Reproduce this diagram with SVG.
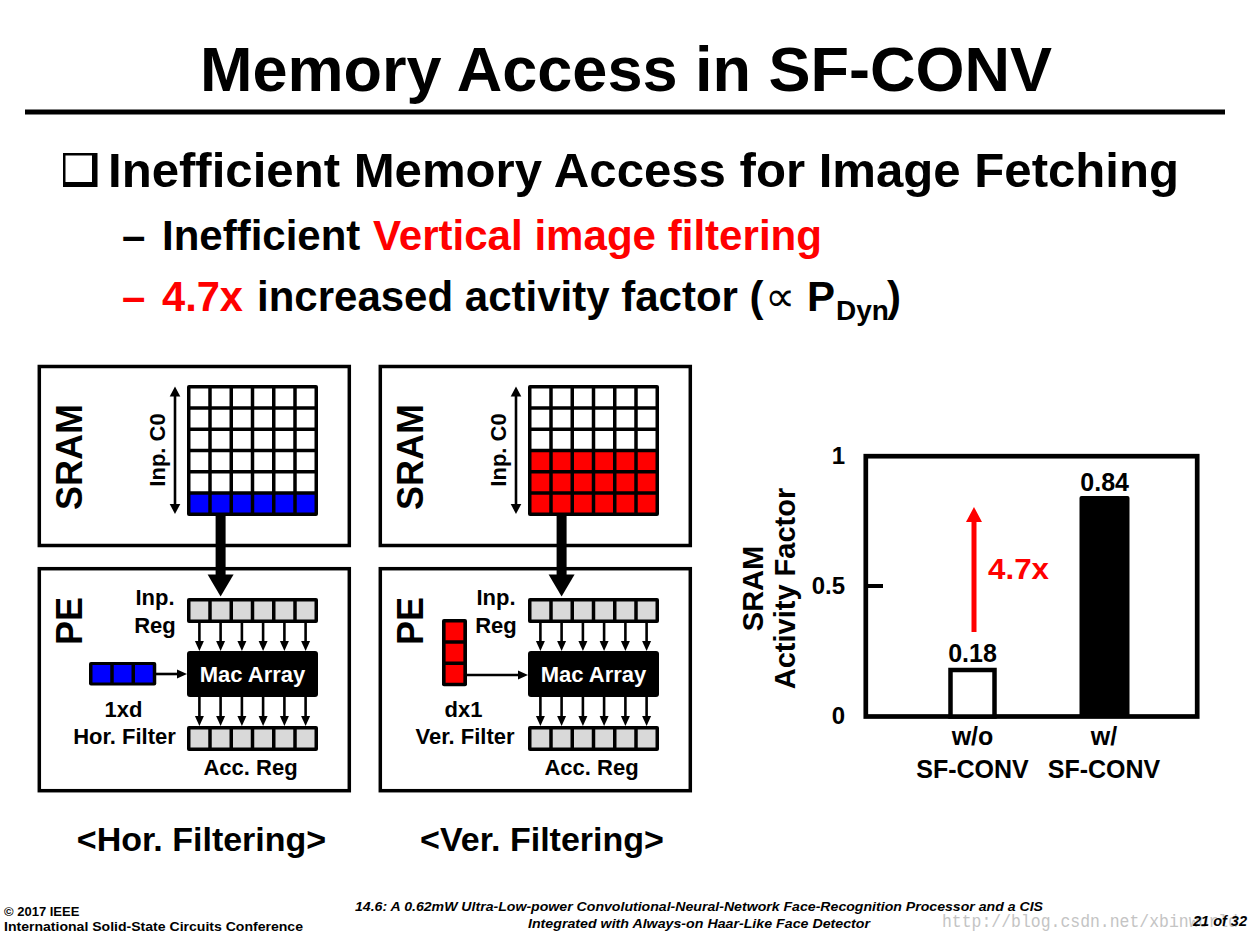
<svg xmlns="http://www.w3.org/2000/svg" width="1256" height="937" viewBox="0 0 1256 937">
<style>
text{font-family:"Liberation Sans",Arial,sans-serif;font-weight:bold;fill:#000}
.box{fill:#fff;stroke:#000;stroke-width:3.5}
.cell{fill:#fff}
.blue{fill:#0000ff}
.red{fill:#ff0000}
.gray{fill:#d9d9d9}
.blk{fill:#000}
.lbl{font-size:22px;text-anchor:middle}
.big{font-size:36px;text-anchor:middle}
.ax{font-size:24px;text-anchor:end}
.xl{font-size:25px;text-anchor:middle}
.ln{stroke:#000;stroke-width:2.6;fill:none}
.foot{font-size:13px}
.fi{font-size:13px;font-style:italic;text-anchor:middle}
</style>
<defs>
<marker id="ah" markerUnits="userSpaceOnUse" markerWidth="10" markerHeight="9" refX="1" refY="4.5" orient="auto" overflow="visible"><path d="M0,0 L10,4.5 L0,9 z" fill="#000"/></marker>
<marker id="ahM" markerUnits="userSpaceOnUse" markerWidth="10" markerHeight="11" refX="1" refY="5.3" orient="auto-start-reverse" overflow="visible"><path d="M0,0 L10,5.3 L0,10.6 z" fill="#000"/></marker>
<marker id="ahB" markerUnits="userSpaceOnUse" markerWidth="22" markerHeight="26" refX="1" refY="13" orient="auto" overflow="visible"><path d="M0,0 L22,13 L0,26 z" fill="#000"/></marker>
<marker id="ahR" markerUnits="userSpaceOnUse" markerWidth="16" markerHeight="16" refX="1" refY="8" orient="auto" overflow="visible"><path d="M0,0 L15,8 L0,16 z" fill="#ff0000"/></marker>
</defs>
<rect width="1256" height="937" fill="#fff"/>

<g id="title">
<text x="626" y="91" font-size="63" text-anchor="middle">Memory Access in SF-CONV</text>
<rect x="25" y="109.5" width="1200" height="5" fill="#000"/>
</g>

<g id="bullets">
<rect x="63" y="153" width="34.5" height="34" fill="#000"/>
<rect x="65.5" y="155.5" width="26.5" height="26.5" fill="#fff"/>
<text x="108" y="187" font-size="48" textLength="1071" lengthAdjust="spacingAndGlyphs">Inefficient Memory Access for Image Fetching</text>
<text y="250" font-size="42"><tspan x="122">–</tspan><tspan x="162">Inefficient</tspan><tspan x="373" fill="#ff0000" textLength="449" lengthAdjust="spacingAndGlyphs">Vertical image filtering</tspan></text>
<text y="311" font-size="42"><tspan x="122" fill="#ff0000">–</tspan><tspan x="162" fill="#ff0000" textLength="81" lengthAdjust="spacingAndGlyphs">4.7x</tspan><tspan x="257">increased activity factor (</tspan><tspan x="765" font-family="DejaVu Sans, sans-serif" font-weight="normal" font-size="42">∝</tspan><tspan x="807">P</tspan><tspan x="836" y="320" font-size="28">Dyn</tspan><tspan x="887" y="311">)</tspan></text>
</g>

<!-- Left panel: horizontal filtering -->
<g id="sram-hor">
<rect x="39.3" y="366.5" width="310" height="179" class="box"/>
<text class="big" transform="translate(82,457) rotate(-90)">SRAM</text>
<text class="lbl" transform="translate(165,450) rotate(-90)">Inp. C0</text>
<rect x="187" y="385" width="131" height="131" rx="2" class="blk"/>
<g class="cell">
<rect x="190.5" y="388.5" width="17.75" height="17.75"/><rect x="211.75" y="388.5" width="17.75" height="17.75"/><rect x="233" y="388.5" width="17.75" height="17.75"/><rect x="254.25" y="388.5" width="17.75" height="17.75"/><rect x="275.5" y="388.5" width="17.75" height="17.75"/><rect x="296.75" y="388.5" width="17.75" height="17.75"/>
<rect x="190.5" y="409.75" width="17.75" height="17.75"/><rect x="211.75" y="409.75" width="17.75" height="17.75"/><rect x="233" y="409.75" width="17.75" height="17.75"/><rect x="254.25" y="409.75" width="17.75" height="17.75"/><rect x="275.5" y="409.75" width="17.75" height="17.75"/><rect x="296.75" y="409.75" width="17.75" height="17.75"/>
<rect x="190.5" y="431" width="17.75" height="17.75"/><rect x="211.75" y="431" width="17.75" height="17.75"/><rect x="233" y="431" width="17.75" height="17.75"/><rect x="254.25" y="431" width="17.75" height="17.75"/><rect x="275.5" y="431" width="17.75" height="17.75"/><rect x="296.75" y="431" width="17.75" height="17.75"/>
<rect x="190.5" y="452.25" width="17.75" height="17.75"/><rect x="211.75" y="452.25" width="17.75" height="17.75"/><rect x="233" y="452.25" width="17.75" height="17.75"/><rect x="254.25" y="452.25" width="17.75" height="17.75"/><rect x="275.5" y="452.25" width="17.75" height="17.75"/><rect x="296.75" y="452.25" width="17.75" height="17.75"/>
<rect x="190.5" y="473.5" width="17.75" height="17.75"/><rect x="211.75" y="473.5" width="17.75" height="17.75"/><rect x="233" y="473.5" width="17.75" height="17.75"/><rect x="254.25" y="473.5" width="17.75" height="17.75"/><rect x="275.5" y="473.5" width="17.75" height="17.75"/><rect x="296.75" y="473.5" width="17.75" height="17.75"/>
</g>
<g class="blue">
<rect x="190.5" y="494.75" width="17.75" height="17.75"/><rect x="211.75" y="494.75" width="17.75" height="17.75"/><rect x="233" y="494.75" width="17.75" height="17.75"/><rect x="254.25" y="494.75" width="17.75" height="17.75"/><rect x="275.5" y="494.75" width="17.75" height="17.75"/><rect x="296.75" y="494.75" width="17.75" height="17.75"/>
</g>
</g>

<g id="pe-hor">
<rect x="39.3" y="568.7" width="310" height="222" class="box"/>
<text class="big" transform="translate(82,621) rotate(-90)">PE</text>
<text class="lbl" x="155" y="605">Inp.</text>
<text class="lbl" x="155" y="633">Reg</text>
<rect x="187" y="598" width="131" height="25" rx="2" class="blk"/>
<g class="gray">
<rect x="190.5" y="601.5" width="17.75" height="18"/><rect x="211.75" y="601.5" width="17.75" height="18"/><rect x="233" y="601.5" width="17.75" height="18"/><rect x="254.25" y="601.5" width="17.75" height="18"/><rect x="275.5" y="601.5" width="17.75" height="18"/><rect x="296.75" y="601.5" width="17.75" height="18"/>
</g>
<rect x="187" y="651" width="131" height="46" rx="3" class="blk"/>
<text class="lbl" x="252.5" y="682" style="fill:#fff">Mac Array</text>
<rect x="187" y="726" width="131" height="25" rx="2" class="blk"/>
<g class="gray">
<rect x="190.5" y="729.5" width="17.75" height="18"/><rect x="211.75" y="729.5" width="17.75" height="18"/><rect x="233" y="729.5" width="17.75" height="18"/><rect x="254.25" y="729.5" width="17.75" height="18"/><rect x="275.5" y="729.5" width="17.75" height="18"/><rect x="296.75" y="729.5" width="17.75" height="18"/>
</g>
<rect x="89" y="662" width="67.25" height="23.5" rx="2" class="blk"/>
<g class="blue">
<rect x="92.5" y="665" width="17.75" height="17.5"/><rect x="113.75" y="665" width="17.75" height="17.5"/><rect x="135" y="665" width="17.75" height="17.5"/>
</g>
<text class="lbl" x="123.5" y="717">1xd</text>
<text class="lbl" x="124.5" y="744">Hor. Filter</text>
<text class="lbl" x="250.5" y="775">Acc. Reg</text>
</g>

<!-- Right panel: vertical filtering -->
<g id="sram-ver">
<rect x="380.3" y="366.5" width="310" height="179" class="box"/>
<text class="big" transform="translate(423,457) rotate(-90)">SRAM</text>
<text class="lbl" transform="translate(506,450) rotate(-90)">Inp. C0</text>
<rect x="528" y="385" width="131" height="131" rx="2" class="blk"/>
<g class="cell">
<rect x="531.5" y="388.5" width="17.75" height="17.75"/><rect x="552.75" y="388.5" width="17.75" height="17.75"/><rect x="574" y="388.5" width="17.75" height="17.75"/><rect x="595.25" y="388.5" width="17.75" height="17.75"/><rect x="616.5" y="388.5" width="17.75" height="17.75"/><rect x="637.75" y="388.5" width="17.75" height="17.75"/>
<rect x="531.5" y="409.75" width="17.75" height="17.75"/><rect x="552.75" y="409.75" width="17.75" height="17.75"/><rect x="574" y="409.75" width="17.75" height="17.75"/><rect x="595.25" y="409.75" width="17.75" height="17.75"/><rect x="616.5" y="409.75" width="17.75" height="17.75"/><rect x="637.75" y="409.75" width="17.75" height="17.75"/>
<rect x="531.5" y="431" width="17.75" height="17.75"/><rect x="552.75" y="431" width="17.75" height="17.75"/><rect x="574" y="431" width="17.75" height="17.75"/><rect x="595.25" y="431" width="17.75" height="17.75"/><rect x="616.5" y="431" width="17.75" height="17.75"/><rect x="637.75" y="431" width="17.75" height="17.75"/>
</g>
<g class="red">
<rect x="531.5" y="452.25" width="17.75" height="17.75"/><rect x="552.75" y="452.25" width="17.75" height="17.75"/><rect x="574" y="452.25" width="17.75" height="17.75"/><rect x="595.25" y="452.25" width="17.75" height="17.75"/><rect x="616.5" y="452.25" width="17.75" height="17.75"/><rect x="637.75" y="452.25" width="17.75" height="17.75"/>
<rect x="531.5" y="473.5" width="17.75" height="17.75"/><rect x="552.75" y="473.5" width="17.75" height="17.75"/><rect x="574" y="473.5" width="17.75" height="17.75"/><rect x="595.25" y="473.5" width="17.75" height="17.75"/><rect x="616.5" y="473.5" width="17.75" height="17.75"/><rect x="637.75" y="473.5" width="17.75" height="17.75"/>
<rect x="531.5" y="494.75" width="17.75" height="17.75"/><rect x="552.75" y="494.75" width="17.75" height="17.75"/><rect x="574" y="494.75" width="17.75" height="17.75"/><rect x="595.25" y="494.75" width="17.75" height="17.75"/><rect x="616.5" y="494.75" width="17.75" height="17.75"/><rect x="637.75" y="494.75" width="17.75" height="17.75"/>
</g>
</g>

<g id="pe-ver">
<rect x="380.3" y="568.7" width="310" height="222" class="box"/>
<text class="big" transform="translate(423,621) rotate(-90)">PE</text>
<text class="lbl" x="496" y="605">Inp.</text>
<text class="lbl" x="496" y="633">Reg</text>
<rect x="528" y="598" width="131" height="25" rx="2" class="blk"/>
<g class="gray">
<rect x="531.5" y="601.5" width="17.75" height="18"/><rect x="552.75" y="601.5" width="17.75" height="18"/><rect x="574" y="601.5" width="17.75" height="18"/><rect x="595.25" y="601.5" width="17.75" height="18"/><rect x="616.5" y="601.5" width="17.75" height="18"/><rect x="637.75" y="601.5" width="17.75" height="18"/>
</g>
<rect x="528" y="651" width="131" height="46" rx="3" class="blk"/>
<text class="lbl" x="593.5" y="682" style="fill:#fff">Mac Array</text>
<rect x="528" y="726" width="131" height="25" rx="2" class="blk"/>
<g class="gray">
<rect x="531.5" y="729.5" width="17.75" height="18"/><rect x="552.75" y="729.5" width="17.75" height="18"/><rect x="574" y="729.5" width="17.75" height="18"/><rect x="595.25" y="729.5" width="17.75" height="18"/><rect x="616.5" y="729.5" width="17.75" height="18"/><rect x="637.75" y="729.5" width="17.75" height="18"/>
</g>
<rect x="442" y="619" width="25" height="67.25" rx="2" class="blk"/>
<g class="red">
<rect x="445.6" y="622.5" width="17.75" height="17.75"/><rect x="445.6" y="643.75" width="17.75" height="17.75"/><rect x="445.6" y="665" width="17.75" height="17.75"/>
</g>
<text class="lbl" x="463.5" y="717">dx1</text>
<text class="lbl" x="465" y="744">Ver. Filter</text>
<text class="lbl" x="591.5" y="775">Acc. Reg</text>
</g>

<g id="connectors">
<line x1="175" y1="395.5" x2="175" y2="505" class="ln" stroke-width="2.4" marker-start="url(#ahM)" marker-end="url(#ahM)"/>
<line x1="220.6" y1="516" x2="220.6" y2="575.5" stroke="#000" stroke-width="10" marker-end="url(#ahB)"/>
<line x1="199.4" y1="623" x2="199.4" y2="642" class="ln" marker-end="url(#ah)"/>
<line x1="220.6" y1="623" x2="220.6" y2="642" class="ln" marker-end="url(#ah)"/>
<line x1="241.9" y1="623" x2="241.9" y2="642" class="ln" marker-end="url(#ah)"/>
<line x1="263.1" y1="623" x2="263.1" y2="642" class="ln" marker-end="url(#ah)"/>
<line x1="284.4" y1="623" x2="284.4" y2="642" class="ln" marker-end="url(#ah)"/>
<line x1="305.6" y1="623" x2="305.6" y2="642" class="ln" marker-end="url(#ah)"/>
<line x1="199.4" y1="697" x2="199.4" y2="717" class="ln" marker-end="url(#ah)"/>
<line x1="220.6" y1="697" x2="220.6" y2="717" class="ln" marker-end="url(#ah)"/>
<line x1="241.9" y1="697" x2="241.9" y2="717" class="ln" marker-end="url(#ah)"/>
<line x1="263.1" y1="697" x2="263.1" y2="717" class="ln" marker-end="url(#ah)"/>
<line x1="284.4" y1="697" x2="284.4" y2="717" class="ln" marker-end="url(#ah)"/>
<line x1="305.6" y1="697" x2="305.6" y2="717" class="ln" marker-end="url(#ah)"/>
<line x1="156" y1="674" x2="178" y2="674" class="ln" marker-end="url(#ah)"/>
<line x1="516" y1="395.5" x2="516" y2="505" class="ln" stroke-width="2.4" marker-start="url(#ahM)" marker-end="url(#ahM)"/>
<line x1="561.6" y1="516" x2="561.6" y2="575.5" stroke="#000" stroke-width="10" marker-end="url(#ahB)"/>
<line x1="540.4" y1="623" x2="540.4" y2="642" class="ln" marker-end="url(#ah)"/>
<line x1="561.6" y1="623" x2="561.6" y2="642" class="ln" marker-end="url(#ah)"/>
<line x1="582.9" y1="623" x2="582.9" y2="642" class="ln" marker-end="url(#ah)"/>
<line x1="604.1" y1="623" x2="604.1" y2="642" class="ln" marker-end="url(#ah)"/>
<line x1="625.4" y1="623" x2="625.4" y2="642" class="ln" marker-end="url(#ah)"/>
<line x1="646.6" y1="623" x2="646.6" y2="642" class="ln" marker-end="url(#ah)"/>
<line x1="540.4" y1="697" x2="540.4" y2="717" class="ln" marker-end="url(#ah)"/>
<line x1="561.6" y1="697" x2="561.6" y2="717" class="ln" marker-end="url(#ah)"/>
<line x1="582.9" y1="697" x2="582.9" y2="717" class="ln" marker-end="url(#ah)"/>
<line x1="604.1" y1="697" x2="604.1" y2="717" class="ln" marker-end="url(#ah)"/>
<line x1="625.4" y1="697" x2="625.4" y2="717" class="ln" marker-end="url(#ah)"/>
<line x1="646.6" y1="697" x2="646.6" y2="717" class="ln" marker-end="url(#ah)"/>
<line x1="467" y1="675" x2="519" y2="675" class="ln" marker-end="url(#ah)"/>
</g>

<g id="captions">
<text x="201.5" y="851" font-size="34" text-anchor="middle">&lt;Hor. Filtering&gt;</text>
<text x="542" y="851" font-size="34" text-anchor="middle">&lt;Ver. Filtering&gt;</text>
</g>

<g id="chart">
<rect x="865.8" y="456.2" width="331.4" height="260.3" fill="none" stroke="#000" stroke-width="4.7"/>
<line x1="866" y1="586" x2="883" y2="586" stroke="#000" stroke-width="4"/>
<text class="ax" x="845" y="463.5">1</text>
<text class="ax" x="845" y="593.5">0.5</text>
<text class="ax" x="845" y="723.5">0</text>
<rect x="950.5" y="670" width="44" height="46.5" fill="#fff" stroke="#000" stroke-width="4.5"/>
<rect x="1079.5" y="496" width="50" height="220.5" rx="2" fill="#000"/>
<text class="xl" x="972.5" y="662">0.18</text>
<text class="xl" x="1104.7" y="491">0.84</text>
<line x1="974" y1="632" x2="974" y2="521" stroke="#ff0000" stroke-width="5" marker-end="url(#ahR)"/>
<text x="988" y="578.5" font-size="29" style="fill:#ff0000" textLength="61" lengthAdjust="spacingAndGlyphs">4.7x</text>
<text font-size="29" text-anchor="middle" transform="translate(763,588.5) rotate(-90)">SRAM</text>
<text font-size="29" text-anchor="middle" transform="translate(795,588.5) rotate(-90)">Activity Factor</text>
<text class="xl" x="972.5" y="745">w/o</text>
<text class="xl" x="972.5" y="777.5">SF-CONV</text>
<text class="xl" x="1104" y="745">w/</text>
<text class="xl" x="1104" y="777.5">SF-CONV</text>
</g>

<g id="footer">
<text class="foot" x="4" y="916">© 2017 IEEE</text>
<text class="foot" x="4" y="931" textLength="299" lengthAdjust="spacingAndGlyphs">International Solid-State Circuits Conference</text>
<text class="fi" x="699" y="911" textLength="688" lengthAdjust="spacingAndGlyphs">14.6: A 0.62mW Ultra-Low-power Convolutional-Neural-Network Face-Recognition Processor and a CIS</text>
<text class="fi" x="699" y="928" textLength="342" lengthAdjust="spacingAndGlyphs">Integrated with Always-on Haar-Like Face Detector</text>
<text x="942" y="927" font-size="18" textLength="296" lengthAdjust="spacingAndGlyphs" style="font-family:'Liberation Mono',monospace;font-weight:normal;fill:#c4c4c4">http://blog.csdn.net/xbinworld</text>
<text x="1247" y="926" font-size="14.5" font-style="italic" text-anchor="end">21 of 32</text>
</g>
</svg>
